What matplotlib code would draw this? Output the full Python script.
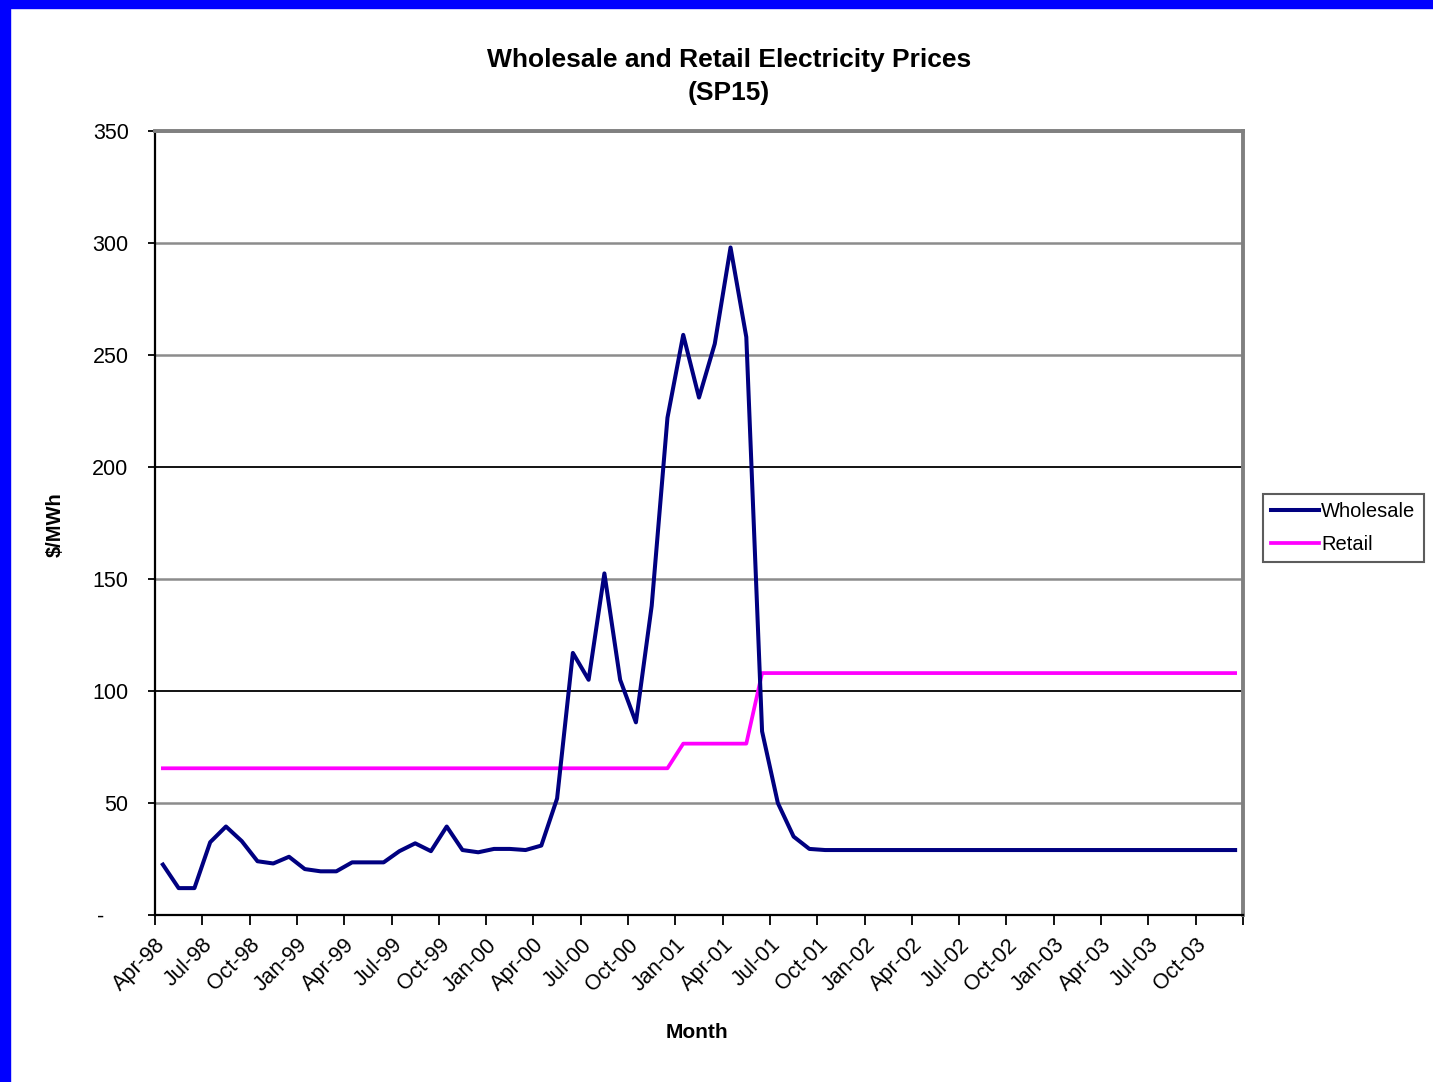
import matplotlib.pyplot as plt
from matplotlib.patches import Rectangle
from matplotlib.lines import Line2D

plt.rcParams['font.family'] = ['Liberation Sans', 'DejaVu Sans']

# month labels shown on the category axis (every third month)
tick_labels = ['Apr-98', 'Jul-98', 'Oct-98', 'Jan-99', 'Apr-99', 'Jul-99', 'Oct-99',
               'Jan-00', 'Apr-00', 'Jul-00', 'Oct-00', 'Jan-01', 'Apr-01', 'Jul-01',
               'Oct-01', 'Jan-02', 'Apr-02', 'Jul-02', 'Oct-02', 'Jan-03', 'Apr-03',
               'Jul-03', 'Oct-03']

# monthly prices Apr-98 .. Dec-03, $/MWh
wholesale = [22.5, 12, 12, 32.5, 39.5, 33, 24, 23, 26, 20.5,
             19.5, 19.5, 23.5, 23.5, 23.5, 28.5, 32, 28.5, 39.5, 29,
             28, 29.5, 29.5, 29, 31, 52, 117, 105, 152.5, 105,
             86, 138, 222, 259, 231, 255, 298, 258, 82, 50,
             35, 29.5, 29, 29, 29, 29, 29, 29, 29, 29,
             29, 29, 29, 29, 29, 29, 29, 29, 29, 29,
             29, 29, 29, 29, 29, 29, 29, 29, 29]
retail = [65.5, 65.5, 65.5, 65.5, 65.5, 65.5, 65.5, 65.5, 65.5, 65.5,
          65.5, 65.5, 65.5, 65.5, 65.5, 65.5, 65.5, 65.5, 65.5, 65.5,
          65.5, 65.5, 65.5, 65.5, 65.5, 65.5, 65.5, 65.5, 65.5, 65.5,
          65.5, 65.5, 65.5, 76.5, 76.5, 76.5, 76.5, 76.5, 108, 108,
          108, 108, 108, 108, 108, 108, 108, 108, 108, 108,
          108, 108, 108, 108, 108, 108, 108, 108, 108, 108,
          108, 108, 108, 108, 108, 108, 108, 108, 108]

W, H = 1433, 1082
fig = plt.figure(figsize=(W / 100, H / 100), dpi=100)
fig.patch.set_facecolor('white')

# blue frame on top and left edge of the screenshot
fig.add_artist(Rectangle((0, 1 - 8 / H), 1, 8 / H, transform=fig.transFigure,
                         color='#0000ff', zorder=10))
fig.add_artist(Rectangle((0, 0), 10 / W, 1, transform=fig.transFigure,
                         color='#0000ff', zorder=10))

ax = fig.add_axes([155 / W, 1 - 915 / H, (1243 - 155) / W, (915 - 131) / H])

x = list(range(len(wholesale)))

# gridlines, excel style (100 and 200 came out black in the original)
for v in [50, 150, 250, 300, 350]:
    ax.axhline(v, color='#8c8c8c', lw=1.8, zorder=1)
for v in [100, 200]:
    ax.axhline(v, color='black', lw=1.3, zorder=1)

ax.plot(x, wholesale, color='#000080', lw=2.9, zorder=3, solid_joinstyle='round')
ax.plot(x, retail, color='#ff00ff', lw=2.7, zorder=2)

ax.set_xlim(-0.5, len(wholesale) - 0.5)
ax.set_ylim(0, 350)

xt = [-0.5 + 3 * k for k in range(24)]
ax.set_xticks(xt)
ax.set_xticklabels(tick_labels + [''], rotation=45, ha='right',
                   rotation_mode='anchor', fontsize=15.5)
ax.set_yticks([0, 50, 100, 150, 200, 250, 300, 350])
ax.set_yticklabels(['-    ', '50', '100', '150', '200', '250', '300', '350'],
                   fontsize=15.5)
ax.tick_params(axis='x', direction='out', length=7, width=1.3, pad=7)
ax.tick_params(axis='y', direction='out', length=5, width=1.3, pad=14)

for s in ['top', 'right']:
    ax.spines[s].set_color('#808080')
    ax.spines[s].set_linewidth(2.8)
for s in ['left', 'bottom']:
    ax.spines[s].set_color('black')
    ax.spines[s].set_linewidth(1.6)

fig.text(729 / W, 1 - 60 / H, 'Wholesale and Retail Electricity Prices',
         ha='center', va='center', fontsize=19, fontweight='bold')
fig.text(729 / W, 1 - 93 / H, '(SP15)', ha='center', va='center',
         fontsize=19, fontweight='bold')
fig.text(697 / W, 1 - 1032 / H, 'Month', ha='center', va='center',
         fontsize=15, fontweight='bold')
fig.text(55 / W, 1 - 525 / H, '$/MWh', ha='center', va='center',
         rotation=90, fontsize=14.5, fontweight='bold')

handles = [Line2D([], [], color='#000080', lw=2.9),
           Line2D([], [], color='#ff00ff', lw=2.7)]
leg = fig.legend(handles, ['Wholesale', 'Retail'], loc='upper left',
                 bbox_to_anchor=(1263 / W, 1 - 494 / H), fontsize=14.5,
                 frameon=True, fancybox=False, edgecolor='#333333',
                 borderpad=0.4, handlelength=2.4, handletextpad=0.1,
                 labelspacing=0.7, borderaxespad=0)
leg.get_frame().set_linewidth(1.5)

fig.savefig('out.png', dpi=100)
